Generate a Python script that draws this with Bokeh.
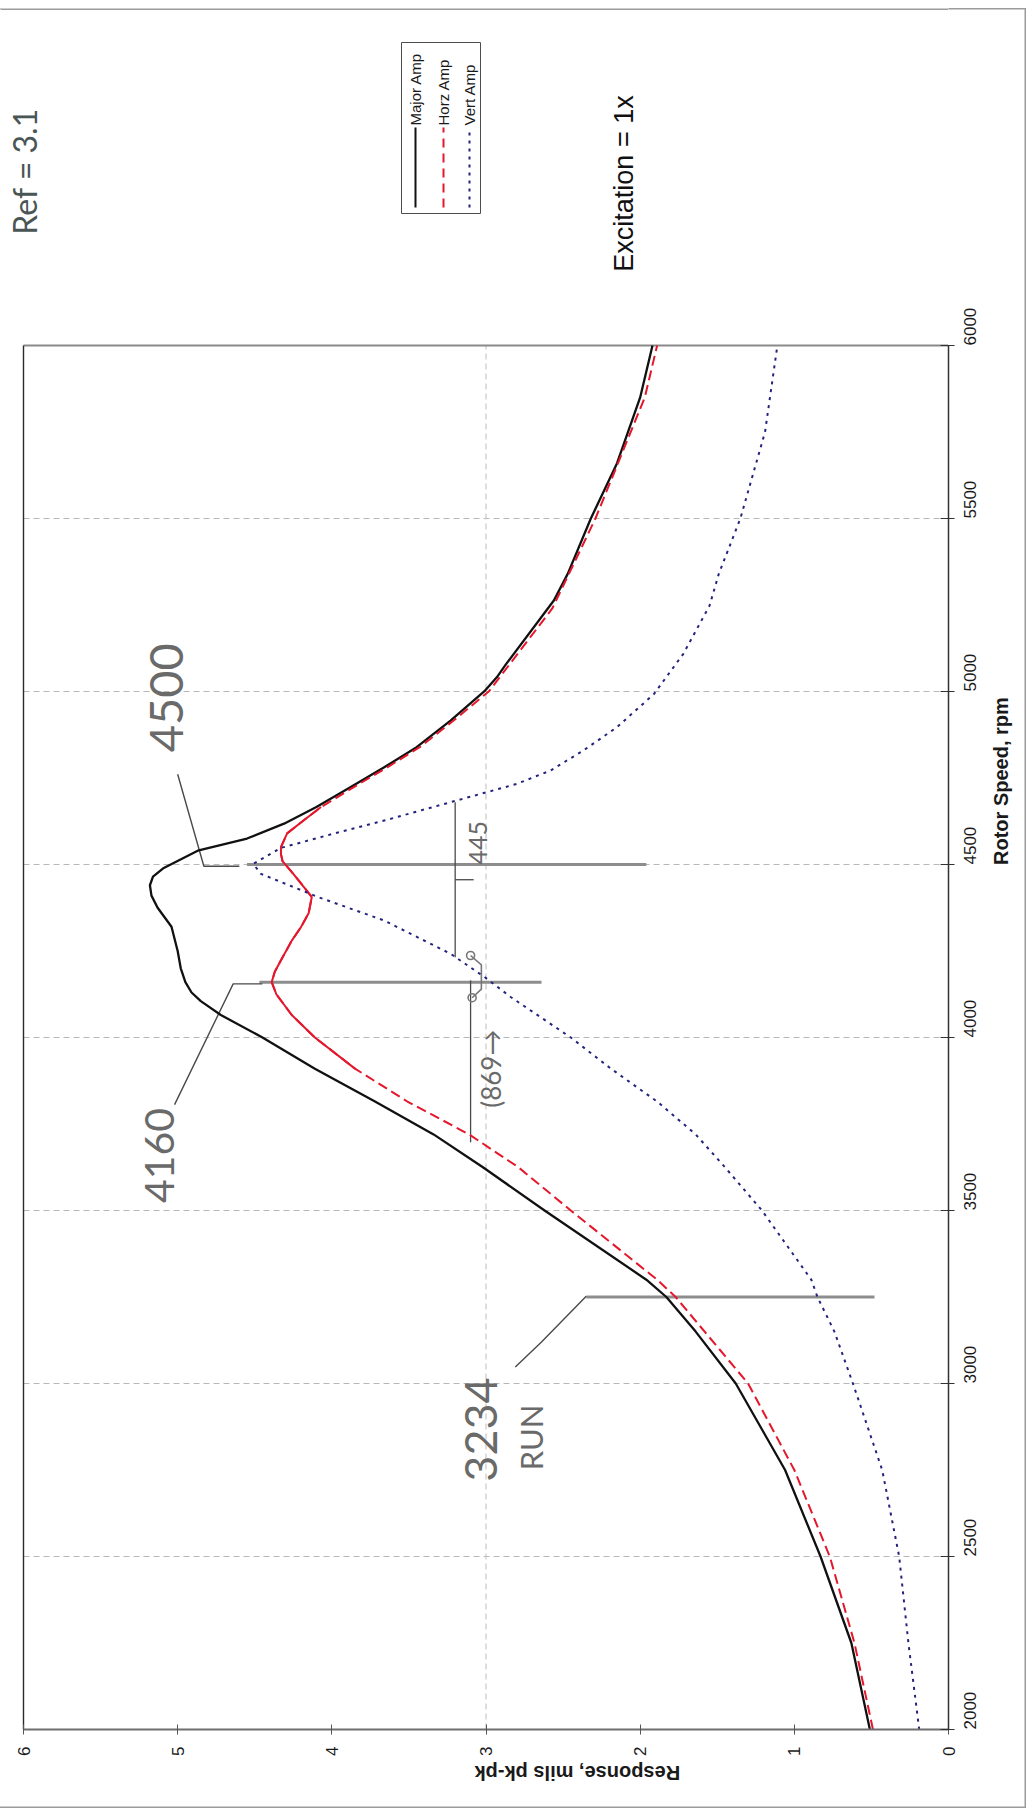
import math

from bokeh.plotting import figure
from bokeh.models import Range1d, FixedTicker
from bokeh.core.properties import value
from bokeh.embed import file_html
from bokeh.resources import INLINE

# ---------------- data ----------------
RPM_TICKS = [2000, 2500, 3000, 3500, 4000, 4500, 5000, 5500, 6000]
RESP_TICKS = [0, 1, 2, 3, 4, 5, 6]
GRID_RPM = [2500, 3000, 3500, 4000, 4500, 5000, 5500]
GRID_RESP = [3]

RPM_MAJOR = [2000, 2250, 2500, 2750, 3000, 3150, 3250, 3300, 3500, 3625, 3720, 3815,
             3910, 4000, 4065, 4105, 4130, 4160, 4200, 4250, 4320, 4375, 4410, 4440,
             4465, 4490, 4540, 4575, 4618, 4666, 4723, 4781, 4839, 4916, 5001, 5041,
             5079, 5263, 5340, 5500, 5660, 5850, 6000]
MAJOR_AMP = [0.51, 0.63, 0.83, 1.06, 1.38, 1.64, 1.83, 1.96, 2.62, 3.02, 3.34, 3.72,
             4.11, 4.45, 4.72, 4.85, 4.91, 4.95, 4.98, 5.00, 5.04, 5.13, 5.17, 5.18,
             5.16, 5.09, 4.87, 4.55, 4.31, 4.10, 3.88, 3.66, 3.45, 3.23, 3.01, 2.93,
             2.87, 2.56, 2.47, 2.32, 2.15, 2.00, 1.92]

RPM_HORZ = [2000, 2250, 2500, 2750, 3000, 3250, 3300, 3500, 3625, 3720, 3815, 3910,
            4000, 4065, 4125, 4160, 4190, 4223, 4280, 4319, 4360, 4406, 4440, 4473,
            4510, 4530, 4550, 4590, 4625, 4666, 4723, 4781, 4839, 4916, 5001, 5240,
            5500, 5850, 6000]
HORZ_AMP = [0.49, 0.61, 0.77, 1.00, 1.30, 1.77, 1.89, 2.45, 2.79, 3.11, 3.51, 3.85,
            4.11, 4.26, 4.36, 4.39, 4.37, 4.33, 4.26, 4.20, 4.15, 4.13, 4.19, 4.25,
            4.32, 4.33, 4.33, 4.29, 4.19, 4.07, 3.86, 3.64, 3.43, 3.21, 2.98, 2.57,
            2.29, 1.97, 1.89]

RPM_VERT = [2000, 2250, 2500, 2750, 3000, 3150, 3250, 3300, 3500, 3625, 3720, 3815,
            3910, 4000, 4117, 4175, 4242, 4338, 4406, 4473, 4502, 4548, 4589, 4627,
            4685, 4733, 4772, 4829, 4897, 4993, 5109, 5248, 5340, 5500, 5750, 6000]
VERT_AMP = [0.19, 0.26, 0.32, 0.43, 0.62, 0.74, 0.85, 0.89, 1.21, 1.45, 1.64, 1.89,
            2.19, 2.45, 2.84, 3.01, 3.23, 3.66, 4.09, 4.46, 4.51, 4.33, 3.99, 3.66,
            3.19, 2.80, 2.58, 2.37, 2.15, 1.91, 1.72, 1.55, 1.49, 1.35, 1.19, 1.11]

SERIES_NAMES = ["Major Amp", "Horz Amp", "Vert Amp"]

# hand-marked speeds and the response span of each marker bar
MARK_RPM = [3250, 4160, 4500]
MARK_HI = [2.35, 4.47, 4.55]
MARK_LO = [0.48, 2.64, 1.96]

# handwritten notes: text, response, rpm, size
NOTE_TEXT = ["4500", "4160", "3234", "RUN", "445", "(869\u2192"]
NOTE_RESP = [5.07, 5.12, 3.03, 2.71, 3.05, 2.97]
NOTE_RPM = [4982, 3659, 2867, 2844, 4563, 3910]
NOTE_SIZE = ["47px", "41px", "45px", "31px", "25px", "26px"]

# ---------------- layout ----------------
W, H = 1029, 1818
FRAME_W, FRAME_H = 948, 1729          # drawing frame (axes sit right and below)
PLOT_X0, PLOT_Y0 = 23, 345            # where response 6 and 6000 rpm fall
R_LEFT = 6 * FRAME_W / (FRAME_W - PLOT_X0)
RPM_TOP = 2000 + 4000 * FRAME_H / (FRAME_H - PLOT_Y0)


def rx(px):
    return R_LEFT * (FRAME_W - px) / FRAME_W


def ry(py):
    return RPM_TOP - (RPM_TOP - 2000) * py / FRAME_H


FONT = "Liberation Sans"
HAND = "Lato"
UP = math.pi / 2
EDGE = "#9b9b9b"

# sheet edge on the right, bottom and top, painted behind the transparent borders
sheet_edge = ", ".join([
    "inset -3px 0 0 0 #ffffff", "inset 0 -10px 0 0 #ffffff", "inset 0 8px 0 0 #ffffff",
    f"inset -4.5px 0 0 0 {EDGE}", f"inset 0 -11.5px 0 0 {EDGE}", f"inset 0 9.5px 0 0 {EDGE}",
])

p = figure(width=W, height=H,
           x_range=Range1d(R_LEFT, 0), y_range=Range1d(2000, RPM_TOP),
           x_axis_location="below", y_axis_location="right",
           min_border_left=0, min_border_top=0,
           min_border_right=W - FRAME_W, min_border_bottom=H - FRAME_H,
           toolbar_location=None, output_backend="svg",
           background_fill_color="white", border_fill_color=None,
           styles={"box-shadow": sheet_edge, "background-color": "#ffffff"})
p.outline_line_color = None
p.grid.visible = False

# ---- axes ----
xa = p.xaxis[0]
xa.ticker = FixedTicker(ticks=RESP_TICKS)
xa.bounds = (RESP_TICKS[0], RESP_TICKS[-1])
xa.major_label_orientation = UP
xa.axis_line_color = "#6e6e6e"
xa.axis_line_width = 2
xa.major_tick_line_color = "#555555"
xa.major_tick_in = 5
xa.major_tick_out = 5
xa.minor_tick_line_color = None
xa.major_label_text_font = FONT
xa.major_label_text_font_size = "17px"
xa.major_label_text_color = "#1a1a1a"
xa.major_label_standoff = 12
xa.axis_label = "Response, mils pk-pk"
xa.axis_label_text_font = FONT
xa.axis_label_text_font_style = "bold"
xa.axis_label_text_font_size = "20px"
xa.axis_label_text_color = "#1a1a1a"
xa.axis_label_standoff = 14

ya = p.yaxis[0]
ya.ticker = FixedTicker(ticks=RPM_TICKS)
ya.bounds = (RPM_TICKS[0], RPM_TICKS[-1])
ya.major_label_orientation = UP
ya.axis_line_color = "#333333"
ya.axis_line_width = 1.5
ya.major_tick_line_color = "#333333"
ya.major_tick_in = 8
ya.major_tick_out = 6
ya.minor_tick_line_color = None
ya.major_label_text_font = FONT
ya.major_label_text_font_size = "17px"
ya.major_label_text_color = "#1a1a1a"
ya.major_label_standoff = 15
ya.axis_label = "Rotor Speed, rpm"
ya.axis_label_text_font = FONT
ya.axis_label_text_font_style = "bold"
ya.axis_label_text_font_size = "20px"
ya.axis_label_text_color = "#1a1a1a"
ya.axis_label_standoff = 16

if "axis_label_orientation" in xa.properties():
    xa.axis_label_orientation = math.pi
    ya.axis_label_orientation = UP

# ---- sheet edge across the top of the drawing area ----
p.line([rx(0), rx(FRAME_W)], [ry(8.7), ry(8.7)], line_color=EDGE, line_width=1.5)

# ---- grid and plot box ----
r0, r6 = RESP_TICKS[0], RESP_TICKS[-1]
n0, n1 = RPM_TICKS[0], RPM_TICKS[-1]
p.segment(x0=[r6] * len(GRID_RPM), x1=[r0] * len(GRID_RPM), y0=GRID_RPM, y1=GRID_RPM,
          line_color="#b8b8b8", line_width=1.2, line_dash="6 4")
p.segment(x0=GRID_RESP, x1=GRID_RESP, y0=[n0] * len(GRID_RESP), y1=[n1] * len(GRID_RESP),
          line_color="#c8c8c8", line_width=1.2, line_dash="6 4")
p.line([r6, r0], [n1, n1], line_color="#8a8a8a", line_width=2.2)
p.line([r6, r6], [n0, n1], line_color="#2a2a2a", line_width=1.4)

# ---- hand-drawn marker bars and leaders ----
p.segment(x0=MARK_HI, x1=MARK_LO, y0=MARK_RPM, y1=MARK_RPM,
          line_color="#8d8d8d", line_width=3)
LEAD = "#4a4a4a"
p.line([5.00, 4.83, 4.60], [4761, 4495, 4495], line_color=LEAD, line_width=1.4)
p.line([5.02, 4.64, 4.45], [3806, 4155, 4155], line_color=LEAD, line_width=1.4)
p.line([2.81, 2.64, 2.35], [3048, 3120, 3252], line_color=LEAD, line_width=1.4)
p.line([3.20, 3.20], [4680, 4232], line_color=LEAD, line_width=1.3)
p.line([3.20, 3.08], [4456, 4456], line_color=LEAD, line_width=1.3)
p.line([3.10, 3.10], [3697, 4165], line_color=LEAD, line_width=1.3)
p.line([3.10, 3.03, 3.03, 3.09], [4237, 4210, 4140, 4115], line_color="#777777", line_width=1.6)
p.scatter([3.10, 3.09], [4237, 4115], size=8, fill_color=None,
          line_color="#777777", line_width=1.6)

# ---- response curves ----
p.line(MAJOR_AMP, RPM_MAJOR, line_color="#111111", line_width=2.3,
       line_join="round")

RED = "#e5172c"
p.line(HORZ_AMP, RPM_HORZ, line_color=RED, line_width=2, line_dash="10 5",
       line_join="round")
solid_idx = [i for i, r in enumerate(RPM_HORZ) if 3880 <= r <= 4700]
p.line([HORZ_AMP[i] for i in solid_idx], [RPM_HORZ[i] for i in solid_idx],
       line_color=RED, line_width=2, line_join="round")

BLUE = "#23237e"
p.line(VERT_AMP, RPM_VERT, line_color=BLUE, line_width=2, line_dash="3 5",
       line_join="round")

# ---- legend (rotated with the sheet) ----
LX0, LX1, LY0, LY1 = 401, 480, 42, 213
p.quad(left=[rx(LX0)], right=[rx(LX1)], top=[ry(LY0)], bottom=[ry(LY1)],
       fill_color="white", line_color="#4d4d4d", line_width=1)
row_px = [415, 443, 469]
styles = [("#111111", None, 2), (RED, "9 6", 2), (BLUE, "3 5", 2)]
for px, (col, dash, lw) in zip(row_px, styles):
    kw = dict(line_color=col, line_width=lw)
    if dash:
        kw["line_dash"] = dash
    p.line([rx(px), rx(px)], [ry(207), ry(127)], **kw)
p.text(x=[rx(px) for px in row_px], y=[ry(125)] * 3, text=SERIES_NAMES,
       angle=UP, text_align="left", text_baseline="middle",
       text_font=value(FONT), text_font_size="15px", text_color="#1a1a1a")

# ---- caption ----
p.text(x=[rx(623)], y=[ry(183)], text=["Excitation = 1x"], angle=UP,
       text_align="center", text_baseline="middle",
       text_font=value(FONT), text_font_size="27px", text_color="#111111")

# ---- handwritten notes ----
for t, xr, yr, sz in zip(NOTE_TEXT, NOTE_RESP, NOTE_RPM, NOTE_SIZE):
    p.text(x=[xr], y=[yr], text=[t], angle=UP, text_align="center",
           text_baseline="middle", text_font=value(HAND), text_font_size=sz,
           text_color="#6a6a6a")
p.text(x=[rx(24)], y=[ry(171)], text=["Ref = 3.1"], angle=UP, text_align="center",
       text_baseline="middle", text_font=value(HAND), text_font_size="32px",
       text_color="#4a5555")

open("out.html", "w").write(file_html(p, INLINE))
